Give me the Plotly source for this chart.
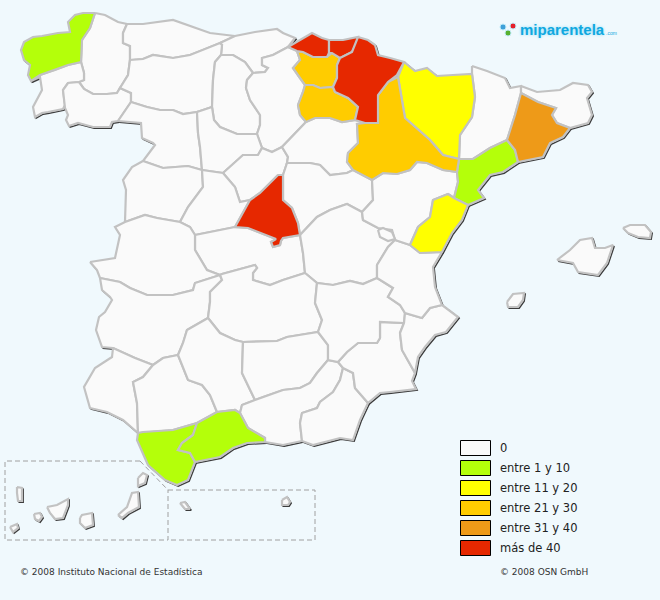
import plotly.graph_objects as go

# provincias, trazadas a mano sobre la imagen (x, y en pixeles)
a_coruna = [(95,13),(83,13),(75,15),(68,22),(70,32),(58,33),(42,36),(33,37),(24,42),(21,50),(24,60),(30,65),(28,75),(31,81),(40,75),(55,70),(68,65),(81,62),(82,40),(90,28)]
lugo = [(95,13),(105,15),(118,22),(127,24),(123,33),(123,43),(130,46),(130,60),(128,75),(120,88),(117,93),(107,94),(93,94),(84,89),(79,82),(84,80),(84,73),(81,62),(82,40),(90,28)]
pontevedra = [(31,81),(40,77),(42,90),(38,97),(33,107),(35,117),(42,113),(48,112),(63,109),(65,105),(63,90),(68,83),(79,82),(84,80),(84,73),(81,62),(68,65),(55,70),(40,75)]
ourense = [(79,82),(68,83),(63,90),(65,105),(65,108),(68,115),(66,120),(69,126),(78,123),(93,127),(110,127),(112,122),(118,121),(131,102),(131,93),(120,88),(117,93),(107,94),(93,94),(84,89)]
asturias = [(127,24),(143,24),(173,20),(190,26),(210,33),(235,36),(220,43),(203,50),(190,55),(173,58),(153,55),(143,59),(130,60),(130,46),(123,43),(123,33)]
cantabria = [(220,43),(235,36),(255,32),(277,29),(283,33),(295,38),(288,47),(273,55),(262,58),(262,65),(268,68),(265,72),(253,73),(245,62),(233,55),(221,55),(222,45)]
leon = [(130,60),(143,59),(153,55),(173,58),(190,55),(203,50),(220,43),(222,45),(221,55),(215,62),(213,80),(212,107),(197,112),(183,114),(173,110),(160,110),(147,107),(131,102),(131,93),(120,88),(128,75)]
palencia = [(221,55),(233,55),(245,62),(253,73),(247,80),(246,88),(250,100),(260,115),(260,125),(257,134),(237,134),(220,127),(214,120),(212,107),(213,80),(215,62)]
burgos = [(253,73),(265,72),(268,68),(262,65),(262,58),(273,55),(288,47),(297,51),(300,60),(293,68),(300,78),(305,85),(303,92),(298,105),(300,115),(306,122),(305,123),(293,135),(282,147),(272,152),(262,148),(257,134),(260,125),(260,115),(250,100),(246,88),(247,80)]
bizkaia = [(288,47),(300,40),(312,33),(322,38),(329,40),(329,53),(327,57),(313,57),(303,52),(297,51)]
gipuzkoa = [(329,40),(343,40),(358,37),(356,45),(352,52),(340,58),(332,53),(329,53)]
navarra = [(358,37),(368,40),(375,45),(378,55),(390,58),(404,62),(397,75),(388,82),(378,95),(378,123),(365,123),(355,120),(358,107),(348,98),(335,92),(333,87),(337,78),(337,65),(340,58),(352,52)]
alava = [(297,51),(303,52),(313,57),(327,57),(332,53),(340,58),(337,65),(337,78),(333,87),(320,88),(313,85),(305,85),(300,78),(293,68),(300,60)]
la_rioja = [(305,85),(313,85),(320,88),(333,87),(335,92),(348,98),(358,107),(355,120),(342,122),(330,118),(315,118),(306,122),(300,115),(298,105),(303,92)]
huesca = [(404,62),(415,71),(427,68),(437,76),(453,75),(472,74),(475,97),(472,117),(460,135),(459,159),(443,155),(430,140),(405,118),(398,77)]
zaragoza = [(398,77),(405,118),(430,140),(443,155),(459,159),(457,172),(443,170),(427,163),(417,162),(410,170),(397,174),(383,173),(372,180),(353,170),(347,162),(348,153),(358,143),(357,124),(365,123),(378,123),(378,95),(388,82)]
lleida = [(472,66),(487,71),(505,78),(510,88),(521,86),(521,93),(515,115),(507,140),(490,148),(473,159),(459,159),(460,135),(472,117),(475,97),(472,74)]
girona = [(521,86),(537,92),(560,90),(573,83),(588,85),(592,92),(587,98),(592,115),(588,123),(570,128),(557,123),(552,115),(556,108),(538,102),(521,93)]
barcelona = [(521,93),(538,102),(556,108),(552,115),(557,123),(570,128),(563,137),(550,143),(543,157),(530,160),(518,162),(515,150),(507,140),(515,115)]
tarragona = [(507,140),(515,150),(518,162),(503,172),(490,175),(478,190),(484,198),(468,205),(454,198),(458,182),(457,172),(459,159),(473,159),(490,148)]
castellon = [(448,194),(454,198),(468,205),(462,220),(452,233),(442,252),(420,253),(410,245),(418,227),(430,217),(433,200)]
teruel = [(372,180),(383,173),(397,174),(410,170),(417,162),(427,163),(443,170),(457,172),(458,182),(454,198),(448,194),(433,200),(430,217),(418,227),(410,245),(395,240),(392,230),(378,228),(363,220),(362,212),(373,200)]
valencia = [(395,240),(410,245),(420,253),(442,252),(433,267),(435,287),(442,305),(430,308),(422,318),(405,313),(400,305),(388,297),(393,288),(377,278),(377,265),(388,247)]
alicante = [(442,305),(458,317),(446,332),(435,335),(425,347),(418,357),(415,373),(402,350),(400,333),(404,323),(405,313),(422,318),(430,308)]
murcia = [(404,323),(380,322),(380,338),(377,343),(358,343),(347,352),(338,362),(343,368),(353,373),(355,388),(368,403),(380,393),(390,392),(416,389),(412,381),(415,373),(402,350),(400,333)]
albacete = [(377,278),(363,284),(350,281),(333,285),(317,283),(315,303),(322,320),(318,332),(328,345),(328,360),(338,362),(347,352),(358,343),(377,343),(380,338),(380,322),(404,323),(405,313),(400,305),(388,297),(393,288)]
almeria = [(343,368),(353,373),(355,388),(368,403),(360,420),(353,440),(340,438),(323,442),(313,445),(302,441),(300,423),(302,413),(317,408),(320,402),(333,392),(340,380)]
granada = [(240,413),(242,405),(255,400),(263,397),(283,390),(300,388),(310,383),(317,373),(328,360),(338,362),(343,368),(340,380),(333,392),(320,402),(317,408),(302,413),(300,423),(302,441),(283,445),(265,442),(265,438),(248,428)]
malaga = [(197,423),(217,412),(235,410),(240,413),(248,428),(265,438),(265,442),(247,443),(233,448),(220,457),(195,462),(190,453),(178,450),(182,443),(193,435)]
cadiz = [(138,433),(143,432),(173,430),(197,423),(193,435),(182,443),(178,450),(190,453),(195,462),(188,480),(177,485),(165,480),(148,465),(143,453),(137,440)]
huelva = [(113,348),(135,358),(153,365),(143,377),(133,382),(137,403),(138,433),(123,420),(107,412),(90,408),(84,387),(95,368),(112,357)]
sevilla = [(153,365),(163,358),(178,355),(188,380),(202,385),(210,395),(217,412),(197,423),(173,430),(143,432),(138,433),(137,403),(133,382),(143,377)]
cordoba = [(178,355),(183,343),(187,330),(208,318),(220,333),(235,340),(243,342),(242,373),(255,400),(242,405),(240,413),(235,410),(217,412),(210,395),(202,385),(188,380)]
jaen = [(243,342),(277,341),(287,337),(318,332),(328,345),(328,360),(317,373),(310,383),(300,388),(283,390),(263,397),(255,400),(242,373)]
ciudad_real = [(208,318),(210,302),(210,292),(222,280),(220,275),(222,274),(255,265),(257,268),(253,273),(253,280),(270,285),(283,280),(305,273),(317,283),(315,303),(322,320),(318,332),(287,337),(277,341),(243,342),(235,340),(220,333)]
badajoz = [(100,278),(120,282),(130,288),(147,295),(173,295),(193,290),(195,283),(220,275),(222,280),(210,292),(210,302),(208,318),(187,330),(183,343),(178,355),(163,358),(153,365),(135,358),(113,348),(102,347),(96,330),(99,317),(105,312),(112,300),(110,297),(102,290)]
caceres = [(90,262),(115,258),(120,235),(115,227),(125,222),(145,215),(157,218),(180,222),(190,227),(195,235),(195,250),(207,270),(220,275),(195,283),(193,290),(173,295),(147,295),(130,288),(120,282),(100,278),(97,270)]
salamanca = [(143,161),(163,168),(188,166),(202,170),(203,187),(188,207),(180,222),(157,218),(145,215),(125,222),(126,190),(123,180),(132,167)]
avila = [(202,170),(223,173),(235,187),(240,202),(250,200),(235,227),(195,235),(190,227),(180,222),(188,207),(203,187)]
zamora = [(118,121),(131,102),(147,107),(160,110),(173,110),(183,114),(197,112),(198,133),(200,147),(202,170),(188,166),(163,168),(143,161),(155,145),(153,143),(142,138),(141,123)]
valladolid = [(197,112),(212,107),(214,120),(220,127),(237,134),(257,134),(262,148),(258,155),(243,155),(223,173),(202,170),(200,147),(198,133)]
segovia = [(223,173),(243,155),(258,155),(262,148),(272,152),(282,147),(288,157),(287,163),(283,175),(278,175),(260,193),(250,200),(240,202),(235,187)]
soria = [(305,123),(306,122),(315,118),(330,118),(342,122),(355,120),(365,123),(357,124),(358,143),(348,153),(347,162),(353,170),(347,173),(330,175),(320,165),(310,163),(287,163),(288,157),(282,147),(293,135)]
guadalajara = [(283,175),(283,200),(292,208),(298,223),(300,235),(317,217),(330,210),(347,204),(362,212),(373,200),(372,180),(353,170),(347,173),(330,175),(320,165),(310,163),(287,163)]
madrid = [(278,175),(283,175),(283,200),(292,208),(298,223),(300,235),(283,238),(281,241),(280,245),(273,247),(271,242),(276,239),(248,228),(235,227),(250,200),(260,193)]
toledo = [(195,235),(235,227),(248,228),(276,239),(271,242),(273,247),(280,245),(281,241),(283,238),(300,235),(303,253),(305,273),(283,280),(270,285),(253,280),(253,273),(257,268),(255,265),(222,274),(220,275),(207,270),(195,250)]
cuenca = [(300,235),(317,217),(330,210),(347,204),(362,212),(363,220),(378,228),(392,230),(395,240),(388,247),(377,265),(377,278),(363,284),(350,281),(333,285),(317,283),(305,273),(303,253)]
rincon_ademuz = [(378,230),(383,228),(392,232),(395,239),(388,241),(380,237)]

# islas y plazas
mallorca = [(557,260),(570,250),(580,240),(592,238),(595,248),(605,248),(613,245),(607,263),(598,275),(578,272),(573,263)]
menorca = [(623,228),(630,225),(645,225),(651,232),(650,238),(638,237),(628,233)]
ibiza = [(507,302),(513,294),(524,293),(523,300),(518,307),(508,307)]
fuerteventura = [(118,515),(127,507),(132,493),(138,492),(139,507),(128,513),(122,518)]
lanzarote = [(138,478),(143,473),(147,475),(145,483),(138,486)]
gran_canaria = [(80,518),(82,515),(92,513),(93,525),(85,528),(80,523)]
tenerife = [(47,507),(57,505),(68,499),(68,505),(63,518),(55,519),(50,513)]
la_gomera = [(34,514),(40,513),(42,517),(39,521),(35,519)]
la_palma = [(17,487),(22,488),(22,501),(18,501),(17,493)]
el_hierro = [(10,527),(17,524),(18,528),(13,532)]
ceuta = [(180,503),(185,502),(190,509),(185,509)]
melilla = [(282,500),(287,497),(290,502),(288,505),(282,505)]

# recuadros de Canarias y Ceuta/Melilla
box_canarias = [(140,461),(5,461),(5,540),(168,540),(168,490)]
box_canarias_diag = [(140,461),(168,490)]
box_ceuta = [(168,490),(315,490),(315,540),(168,540)]

legend_labels = ["0", "entre 1 y 10", "entre 11 y 20", "entre 21 y 30", "entre 31 y 40", "más de 40"]
legend_colors = ["#fafafa", "#b4ff0a", "#ffff00", "#ffcc00", "#ee9a18", "#e62800"]

# logo
logo_icon_x = [503, 513, 508]
logo_icon_y = [27, 26, 33]
logo_icon_colors = ["#3fa0d8", "#e6202a", "#58b030"]

# (poligono, indice de la leyenda)
provinces = [
    (lugo, 0), (pontevedra, 0), (ourense, 0), (asturias, 0), (cantabria, 0), (leon, 0),
    (palencia, 0), (burgos, 0), (zamora, 0), (valladolid, 0), (salamanca, 0), (segovia, 0),
    (avila, 0), (soria, 0), (guadalajara, 0), (toledo, 0), (cuenca, 0), (caceres, 0),
    (badajoz, 0), (ciudad_real, 0), (huelva, 0), (sevilla, 0), (cordoba, 0), (jaen, 0),
    (granada, 0), (almeria, 0), (murcia, 0), (albacete, 0), (alicante, 0), (valencia, 0),
    (teruel, 0), (lleida, 0), (girona, 0), (rincon_ademuz, 0),
    (mallorca, 0), (menorca, 0), (ibiza, 0), (fuerteventura, 0), (lanzarote, 0),
    (gran_canaria, 0), (tenerife, 0), (la_gomera, 0), (la_palma, 0), (el_hierro, 0),
    (ceuta, 0), (melilla, 0),
    (a_coruna, 1), (tarragona, 1), (cadiz, 1), (malaga, 1),
    (huesca, 2), (castellon, 2),
    (alava, 3), (la_rioja, 3), (zaragoza, 3),
    (barcelona, 4),
    (bizkaia, 5), (gipuzkoa, 5), (navarra, 5), (madrid, 5),
]

BACKGROUND = "#f0f9fd"
BORDER = "#c2c2c2"

fig = go.Figure()

# sombra oscura de la costa: todo el mapa desplazado por debajo
shadow_x, shadow_y = [], []
for poly, _ in provinces:
    closed = poly + [poly[0]]
    shadow_x += [p[0] + 1.2 for p in closed] + [None]
    shadow_y += [p[1] + 1.2 for p in closed] + [None]
fig.add_trace(go.Scatter(x=shadow_x, y=shadow_y, mode="lines", line=dict(color="#3c3c3c", width=1.5), hoverinfo="skip"))

for poly, bucket in provinces:
    closed = poly + [poly[0]]
    fig.add_trace(go.Scatter(
        x=[p[0] for p in closed],
        y=[p[1] for p in closed],
        mode="lines",
        fill="toself",
        fillcolor=legend_colors[bucket],
        line=dict(color=BORDER, width=2.2),
        hoverinfo="skip",
    ))

for box in [box_canarias, box_canarias_diag, box_ceuta]:
    fig.add_trace(go.Scatter(
        x=[p[0] for p in box],
        y=[p[1] for p in box],
        mode="lines",
        line=dict(color="#a0a0a0", width=1, dash="5px,3px"),
        hoverinfo="skip",
    ))

# leyenda
for i, (label, color) in enumerate(zip(legend_labels, legend_colors)):
    fig.add_shape(type="rect", x0=460.5, x1=490.5, y0=440.5 + 20 * i, y1=455.5 + 20 * i,
                  fillcolor=color, line=dict(color="black", width=1))
    fig.add_annotation(x=498, y=448 + 20 * i, text=label, showarrow=False, xanchor="left",
                       font=dict(family="DejaVu Sans", size=11.5, color="#222222"))

fig.add_annotation(x=18, y=572, text="© 2008 Instituto Nacional de Estadística", showarrow=False,
                   xanchor="left", font=dict(family="DejaVu Sans", size=9, color="#333333"))
fig.add_annotation(x=498, y=572, text="© 2008 OSN GmbH", showarrow=False,
                   xanchor="left", font=dict(family="DejaVu Sans", size=9, color="#333333"))

fig.add_trace(go.Scatter(
    x=logo_icon_x, y=logo_icon_y, mode="markers",
    marker=dict(color=logo_icon_colors, size=6, symbol="circle", line=dict(color="#bfeaf8", width=1)),
    hoverinfo="skip",
))
fig.add_annotation(x=518, y=29, text="<b>miparentela</b>", showarrow=False, xanchor="left",
                   font=dict(family="Liberation Sans", size=15, color="#10a8e0",
                             shadow="0 0 3px #8fdcf5"))
fig.add_annotation(x=604, y=33, text=".com", showarrow=False, xanchor="left",
                   font=dict(family="Liberation Sans", size=5, color="#10a8e0"))

fig.update_layout(
    width=660,
    height=600,
    margin=dict(l=0, r=0, t=0, b=0),
    paper_bgcolor=BACKGROUND,
    plot_bgcolor=BACKGROUND,
    showlegend=False,
    xaxis=dict(range=[0, 660], visible=False, fixedrange=True),
    yaxis=dict(range=[600, 0], visible=False, fixedrange=True),
)

fig.write_html("out.html", config={"displayModeBar": False},
               post_script="document.body.style.margin='0';document.body.style.overflow='hidden';")
